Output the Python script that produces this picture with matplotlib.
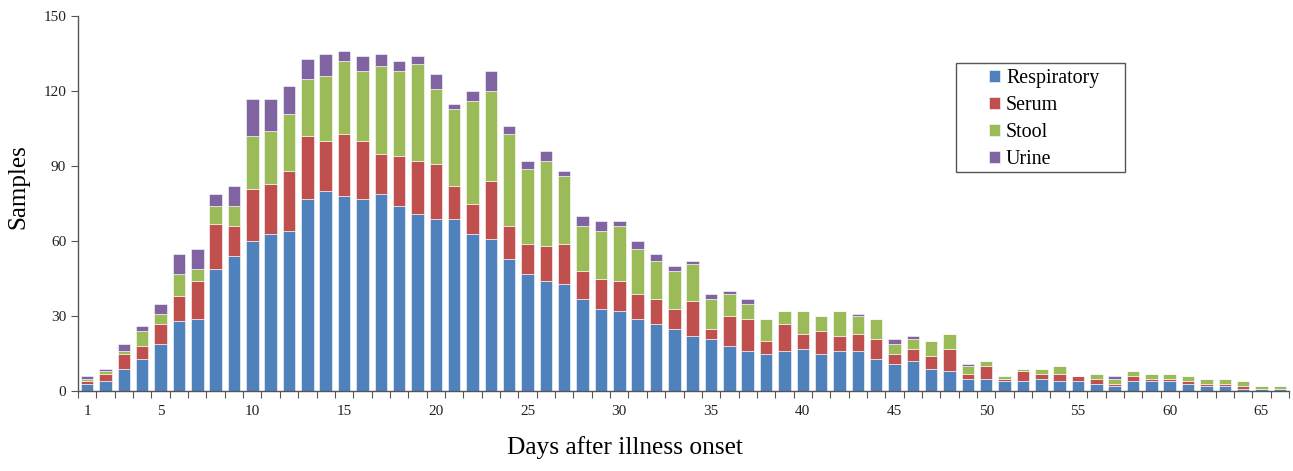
import matplotlib
matplotlib.use("Agg")
import matplotlib.pyplot as plt
from matplotlib.patches import Rectangle
import numpy as np

days = list(range(1, 67))
respiratory = [3, 4, 9, 13, 19, 28, 29, 49, 54, 60, 63, 64, 77, 80, 78, 77, 79, 74, 71, 69,
               69, 63, 61, 53, 47, 44, 43, 37, 33, 32, 29, 27, 25, 22, 21, 18, 16, 15, 16, 17,
               15, 16, 16, 13, 11, 12, 9, 8, 5, 5, 4, 4, 5, 4, 4, 3, 2, 4, 4, 4,
               3, 2, 2, 1, 1, 1]
serum = [1, 3, 6, 5, 8, 10, 15, 18, 12, 21, 20, 24, 25, 20, 25, 23, 16, 20, 21, 22,
         13, 12, 23, 13, 12, 14, 16, 11, 12, 12, 10, 10, 8, 14, 4, 12, 13, 5, 11, 6,
         9, 6, 7, 8, 4, 5, 5, 9, 2, 5, 1, 4, 2, 3, 2, 2, 1, 2, 1, 1,
         1, 1, 1, 1, 0, 0]
stool = [1, 1, 1, 6, 4, 9, 5, 7, 8, 21, 21, 23, 23, 26, 29, 28, 35, 34, 39, 30,
         31, 41, 36, 37, 30, 34, 27, 18, 19, 22, 18, 15, 15, 15, 12, 9, 6, 9, 5, 9,
         6, 10, 7, 8, 4, 4, 6, 6, 3, 2, 1, 1, 2, 3, 0, 2, 2, 2, 2, 2,
         2, 2, 2, 2, 1, 1]
urine = [1, 1, 3, 2, 4, 8, 8, 5, 8, 15, 13, 11, 8, 9, 4, 6, 5, 4, 3, 6,
         2, 4, 8, 3, 3, 4, 2, 4, 4, 2, 3, 3, 2, 1, 2, 1, 2, 0, 0, 0,
         0, 0, 1, 0, 2, 1, 0, 0, 1, 0, 0, 0, 0, 0, 0, 0, 1, 0, 0, 0,
         0, 0, 0, 0, 0, 0]
series_names = ["Respiratory", "Serum", "Stool", "Urine"]
colors = ["#4F81BD", "#C0504D", "#9BBB59", "#8064A2"]
y_ticks = [0, 30, 60, 90, 120, 150]
x_tick_labels = [1, 5, 10, 15, 20, 25, 30, 35, 40, 45, 50, 55, 60, 65]

plt.rcParams['font.family'] = ['Liberation Serif', 'DejaVu Serif']

W, H = 1293, 471
fig = plt.figure(figsize=(W / 100, H / 100), dpi=100)
ax = fig.add_axes([78 / W, 1 - 391 / H, (1289 - 78) / W, (391 - 16) / H])

x = np.array(days)
bottom = np.zeros(len(days))
for vals, name, c in zip([respiratory, serum, stool, urine], series_names, colors):
    v = np.array(vals, dtype=float)
    ax.bar(x, v, bottom=bottom, width=0.68, color=c, label=name,
           edgecolor='white', linewidth=0.4)
    bottom += v

ax.set_xlim(0.5, 66.5)
ax.set_ylim(0, 150)
ax.set_yticks(y_ticks)
ax.set_xticks(x_tick_labels)
ax.set_xticks(np.arange(0.5, 67, 1), minor=True)
ax.tick_params(axis='x', which='major', length=0, labelsize=11, pad=10, labelcolor='#222222')
ax.tick_params(axis='x', which='minor', length=5, width=0.8, direction='out', color='#555555')
ax.tick_params(axis='y', which='major', length=5, width=0.8, direction='out', labelsize=11,
               color='#555555', labelcolor='#222222')

for s in ['top', 'right']:
    ax.spines[s].set_visible(False)
for s in ['left', 'bottom']:
    ax.spines[s].set_color('#555555')
    ax.spines[s].set_linewidth(1.0)

fig.text(625 / W, 1 - 448 / H, "Days after illness onset", fontsize=18.3,
         ha='center', va='center')
fig.text(18 / W, 1 - 187 / H, "Samples", fontsize=18, rotation=90,
         ha='center', va='center')

leg = ax.legend(loc='upper left', bbox_to_anchor=(989 / W, 1 - 69 / H),
                bbox_transform=fig.transFigure, fontsize=14.4, frameon=False,
                handlelength=0.55, handleheight=0.55, handletextpad=0.3,
                borderpad=0, labelspacing=0.4, borderaxespad=0)
fig.patches.append(Rectangle((956 / W, 1 - 172 / H), 169 / W, 109 / H,
                             transform=fig.transFigure, fill=False,
                             edgecolor='#555555', linewidth=1.0))

fig.savefig("out.png", dpi=100)
